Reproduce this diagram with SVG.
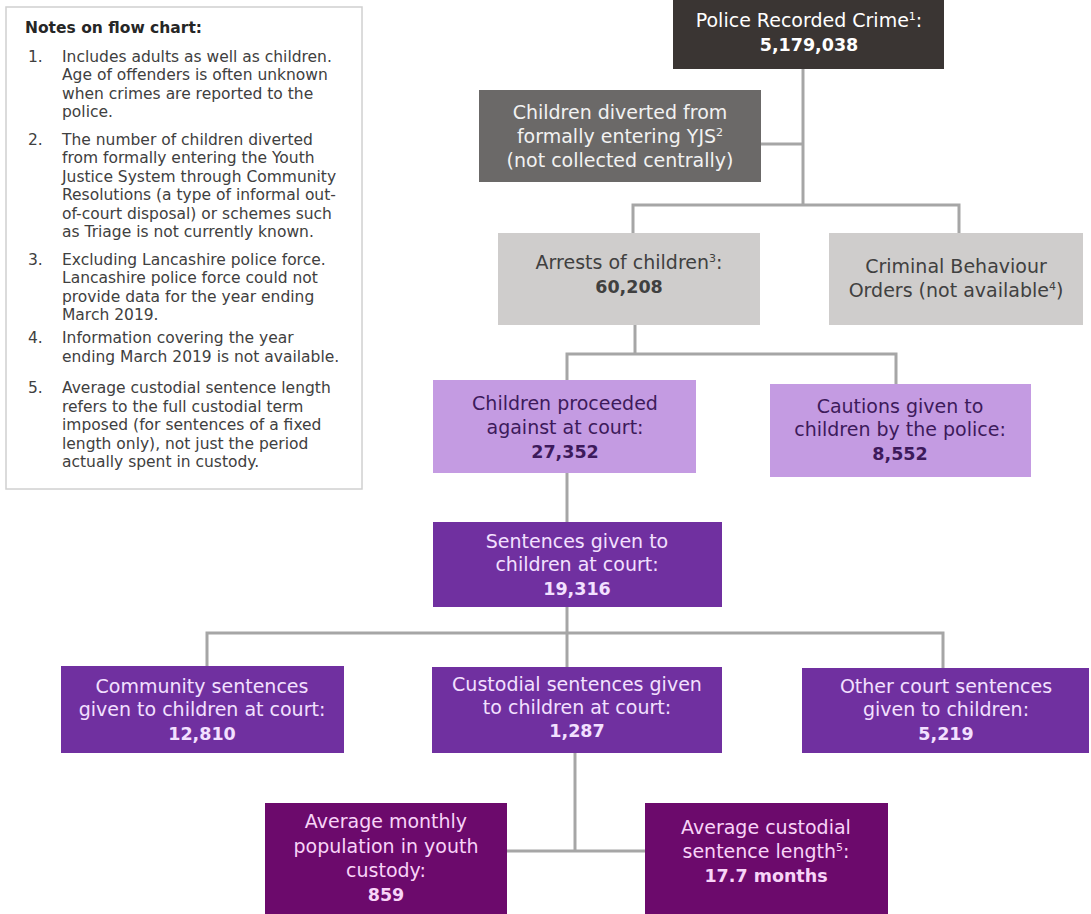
<svg xmlns="http://www.w3.org/2000/svg" width="1091" height="914" viewBox="0 0 1091 914">
<style>
text{font-family:"DejaVu Sans","Open Sans",sans-serif;}
.n{font-size:15.5px;fill:#404040;}
.nt{font-size:15.5px;fill:#262626;font-weight:bold;}
.t{font-size:19px;text-anchor:middle;}
.b{font-weight:bold;font-size:17.5px;}
.dark{fill:#3a3533;}
.mid{fill:#6b6968;}
.light{fill:#cfcdcc;}
.lav{fill:#c49be2;}
.pur{fill:#7030a0;}
.mag{fill:#6c0a6c;}
.wt{fill:#ffffff;}
.gt{fill:#f2f2f2;}
.dt{fill:#404040;}
.lt{fill:#3d1a5b;}
.pt{fill:#f3e0ff;}
.mt{fill:#f8d4f8;}
.conn path{fill:none;stroke:#a6a6a6;stroke-width:3;}
</style>
<rect width="1091" height="914" fill="#ffffff"/>
<g id="notes">
<rect x="6" y="7" width="356" height="482" fill="#ffffff" stroke="#d0d0d0" stroke-width="1.5"/>
<text class="nt" x="25" y="33">Notes on flow chart:</text>
<text class="n" x="28" y="62">1.</text>
<text class="n" x="62" y="62">Includes adults as well as children.</text>
<text class="n" x="62" y="80.4">Age of offenders is often unknown</text>
<text class="n" x="62" y="98.8">when crimes are reported to the</text>
<text class="n" x="62" y="117.2">police.</text>
<text class="n" x="28" y="145">2.</text>
<text class="n" x="62" y="145">The number of children diverted</text>
<text class="n" x="62" y="163.4">from formally entering the Youth</text>
<text class="n" x="62" y="181.8">Justice System through Community</text>
<text class="n" x="62" y="200.2">Resolutions (a type of informal out-</text>
<text class="n" x="62" y="218.6">of-court disposal) or schemes such</text>
<text class="n" x="62" y="237">as Triage is not currently known.</text>
<text class="n" x="28" y="265">3.</text>
<text class="n" x="62" y="265">Excluding Lancashire police force.</text>
<text class="n" x="62" y="283.4">Lancashire police force could not</text>
<text class="n" x="62" y="301.8">provide data for the year ending</text>
<text class="n" x="62" y="320.2">March 2019.</text>
<text class="n" x="28" y="343.3">4.</text>
<text class="n" x="62" y="343.3">Information covering the year</text>
<text class="n" x="62" y="361.7">ending March 2019 is not available.</text>
<text class="n" x="28" y="393.3">5.</text>
<text class="n" x="62" y="393.3">Average custodial sentence length</text>
<text class="n" x="62" y="411.7">refers to the full custodial term</text>
<text class="n" x="62" y="430.1">imposed (for sentences of a fixed</text>
<text class="n" x="62" y="448.5">length only), not just the period</text>
<text class="n" x="62" y="466.9">actually spent in custody.</text>
</g>
<g class="conn" id="connectors">
<path d="M803 69V205"/>
<path d="M761 144H803"/>
<path d="M633 233V205H959V233"/>
<path d="M635 325V354"/>
<path d="M567 380V354H896V384"/>
<path d="M567 473V522"/>
<path d="M567 607V667"/>
<path d="M207 666V633H943V668"/>
<path d="M575 753V851"/>
<path d="M507 851H645"/>
</g>
<g id="police">
<rect class="dark" x="673" y="0" width="271" height="69"/>
<text class="t wt" x="809" y="27">Police Recorded Crime<tspan font-size="11" dy="-7">1</tspan><tspan dy="7">:</tspan></text>
<text class="t b wt" x="809" y="51">5,179,038</text>
</g>
<g id="diverted">
<rect class="mid" x="479" y="90" width="282" height="92"/>
<text class="t gt" x="620" y="119">Children diverted from</text>
<text class="t gt" x="620" y="143">formally entering YJS<tspan font-size="11" dy="-7">2</tspan></text>
<text class="t gt" x="620" y="167">(not collected centrally)</text>
</g>
<g id="arrests">
<rect class="light" x="498" y="233" width="262" height="92"/>
<text class="t dt" x="629" y="269">Arrests of children<tspan font-size="11" dy="-7">3</tspan><tspan dy="7">:</tspan></text>
<text class="t b dt" x="629" y="293">60,208</text>
</g>
<g id="cbo">
<rect class="light" x="829" y="233" width="254" height="92"/>
<text class="t dt" x="956" y="273">Criminal Behaviour</text>
<text class="t dt" x="956" y="297">Orders (not available<tspan font-size="11" dy="-7">4</tspan><tspan dy="7">)</tspan></text>
</g>
<g id="proceeded">
<rect class="lav" x="433" y="380" width="263" height="93"/>
<text class="t lt" x="565" y="410">Children proceeded</text>
<text class="t lt" x="565" y="434">against at court:</text>
<text class="t b lt" x="565" y="458">27,352</text>
</g>
<g id="cautions">
<rect class="lav" x="770" y="384" width="261" height="93"/>
<text class="t lt" x="900" y="413">Cautions given to</text>
<text class="t lt" x="900" y="436">children by the police:</text>
<text class="t b lt" x="900" y="460">8,552</text>
</g>
<g id="sentences">
<rect class="pur" x="433" y="522" width="289" height="85"/>
<text class="t pt" x="577" y="548">Sentences given to</text>
<text class="t pt" x="577" y="571">children at court:</text>
<text class="t b pt" x="577" y="595">19,316</text>
</g>
<g id="community">
<rect class="pur" x="61" y="666" width="283" height="87"/>
<text class="t pt" x="202" y="693">Community sentences</text>
<text class="t pt" x="202" y="716">given to children at court:</text>
<text class="t b pt" x="202" y="740">12,810</text>
</g>
<g id="custodial">
<rect class="pur" x="432" y="667" width="290" height="86"/>
<text class="t pt" x="577" y="691">Custodial sentences given</text>
<text class="t pt" x="577" y="714">to children at court:</text>
<text class="t b pt" x="577" y="737">1,287</text>
</g>
<g id="other">
<rect class="pur" x="802" y="668" width="287" height="85"/>
<text class="t pt" x="946" y="693">Other court sentences</text>
<text class="t pt" x="946" y="716">given to children:</text>
<text class="t b pt" x="946" y="740">5,219</text>
</g>
<g id="population">
<rect class="mag" x="265" y="803" width="242" height="111"/>
<text class="t mt" x="386" y="828">Average monthly</text>
<text class="t mt" x="386" y="853">population in youth</text>
<text class="t mt" x="386" y="877">custody:</text>
<text class="t b mt" x="386" y="901">859</text>
</g>
<g id="length">
<rect class="mag" x="645" y="803" width="243" height="111"/>
<text class="t mt" x="766" y="834">Average custodial</text>
<text class="t mt" x="766" y="858">sentence length<tspan font-size="11" dy="-7">5</tspan><tspan dy="7">:</tspan></text>
<text class="t b mt" x="766" y="882">17.7 months</text>
</g>
</svg>
